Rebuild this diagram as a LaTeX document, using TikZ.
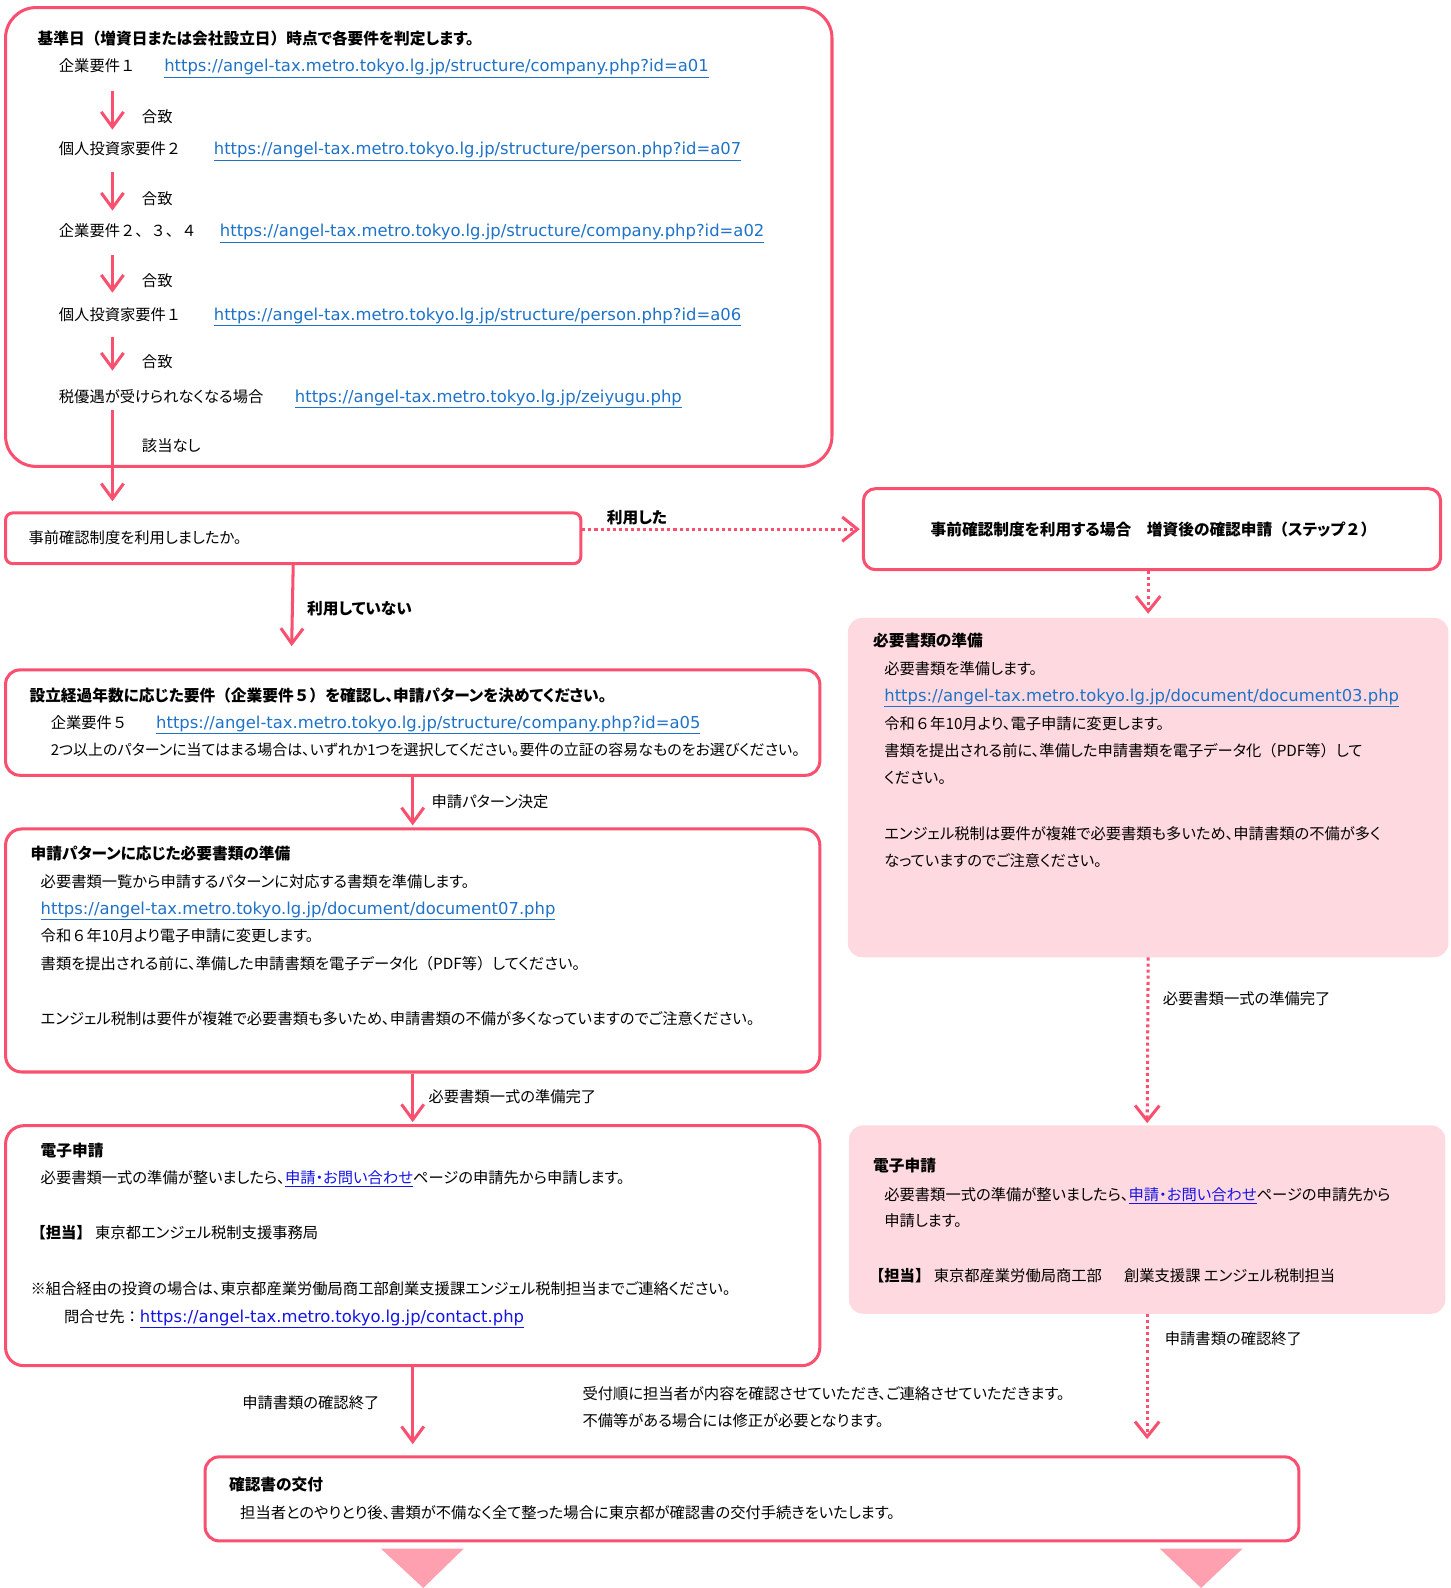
\documentclass[tikz,border=0pt]{standalone}
\usepackage{fontspec}
\setmainfont{Noto Sans CJK JP}[RawFeature=+palt]
\newfontfamily\fwfont{Noto Sans CJK JP}
\newfontfamily\urlfont{DejaVu Sans}
\usetikzlibrary{arrows.meta}
\definecolor{pk}{RGB}{250,80,112}
\definecolor{pkfill}{RGB}{255,217,224}
\definecolor{trifill}{RGB}{255,160,176}
\definecolor{urlc}{RGB}{30,115,200}
\definecolor{lnkc}{RGB}{20,20,230}
\newcommand{\myurl}[2][urlc]{{\urlfont\fontsize{16.2}{18}\selectfont\color{#1}\underline{#2}}}
\newcommand{\mylnk}[1]{{\color{lnkc}\underline{#1}}}
\newcommand{\F}[1]{{\fwfont #1}}
\begin{document}
\begin{tikzpicture}[x=1pt,y=-1pt,
  every node/.style={font=\fontsize{15.1}{18}\selectfont},
  box/.style={draw=pk, line width=3pt, rounded corners=#1, inner sep=0pt, anchor=north west, fill=white},
  pbox/.style={fill=pkfill, rounded corners=14pt, inner sep=0pt, anchor=north west},
  txt/.style={inner sep=0pt, anchor=base west},
  btxt/.style={inner sep=0pt, anchor=base west, font=\fontsize{15.5}{18}\selectfont\bfseries},
  arr/.style={draw=pk, line width=3pt, -{Straight Barb[length=15pt,width=22pt,line width=3pt]}},
  dotarr/.style={draw=pk, line width=3pt, dash pattern=on 3pt off 3pt, -{Straight Barb[length=15pt,width=24pt,line width=3pt]}}
]
\useasboundingbox (0,0) rectangle (1432,1568);

% ---------- boxes ----------
\node[box=30pt, minimum width=816pt, minimum height=453pt] (A) at (4,6) {};
\node[box=7pt, minimum width=568pt, minimum height=50pt] (B) at (4,505) {};
\node[box=12pt, minimum width=570pt, minimum height=80pt] (C) at (851,481) {};
\node[pbox, minimum width=593pt, minimum height=335pt] (D) at (837,610) {};
\node[pbox, minimum width=589pt, minimum height=186pt] (E) at (838,1111) {};
\node[box=14pt, minimum width=804pt, minimum height=104pt] (G) at (4,660) {};
\node[box=16pt, minimum width=804pt, minimum height=240pt] (H) at (4,817) {};
\node[box=18pt, minimum width=804pt, minimum height=237pt] (I) at (4,1110) {};
\node[box=14pt, minimum width=1080pt, minimum height=83pt] (F) at (201,1437) {};

% ---------- box A ----------
\node[btxt] (a0) at (37,44) {基準日\F{（}増資日または会社設立日\F{）}時点で各要件を判定します。};
\node[txt] (a1) at (58,71) {企業要件\F{１}};
\node[txt] (u1) at (162,71) {\myurl{https://angel-tax.metro.tokyo.lg.jp/structure/company.php?id=a01}};
\node[txt] (a2) at (58,153) {個人投資家要件\F{２}};
\node[txt] (u2) at (211,153) {\myurl{https://angel-tax.metro.tokyo.lg.jp/structure/person.php?id=a07}};
\node[txt] (a3) at (58,234) {\F{企業要件２、３、４}};
\node[txt] (u3) at (217,234) {\myurl{https://angel-tax.metro.tokyo.lg.jp/structure/company.php?id=a02}};
\node[txt] (a4) at (58,316) {個人投資家要件\F{１}};
\node[txt] (u4) at (211,316) {\myurl{https://angel-tax.metro.tokyo.lg.jp/structure/person.php?id=a06}};
\node[txt] (a5) at (58,397) {税優遇が受けられなくなる場合};
\node[txt] (u5) at (291,397) {\myurl{https://angel-tax.metro.tokyo.lg.jp/zeiyugu.php}};
\node[txt] (g1) at (140,121) {合致};
\node[txt] (g2) at (140,202) {合致};
\node[txt] (g3) at (140,283) {合致};
\node[txt] (g4) at (140,363) {合致};
\node[txt] (g5) at (140,446) {該当なし};

\coordinate (s1) at (111,90);  \coordinate (e1) at (111,128);
\coordinate (s2) at (111,170); \coordinate (e2) at (111,208);
\coordinate (s3) at (111,252); \coordinate (e3) at (111,289);
\coordinate (s4) at (111,333); \coordinate (e4) at (111,366);
\coordinate (s5) at (111,405); \coordinate (e5) at (111,495);
\draw[arr] (s1) -- (e1);
\draw[arr] (s2) -- (e2);
\draw[arr] (s3) -- (e3);
\draw[arr] (s4) -- (e4);
\draw[arr] (s5) -- (e5);

% ---------- box B / C ----------
\node[txt] (b1) at (28,537) {事前確認制度を利用しましたか。};
\draw[dotarr, shorten >=2pt] (B.east |- C.west) -- (C.west);
\node[btxt] (l1) at (599,517) {利用した};
\node[inner sep=0pt, font=\fontsize{15.5}{18}\selectfont\bfseries] (c1) at (1139,523) {事前確認制度を利用する場合\F{　}増資後の確認申請\F{（}ステップ\F{２）}};

% ---------- right column ----------
\draw[dotarr, shorten >=4pt] (C.south -| D.north) -- (D.north);
\node[btxt] (d0) at (862,638) {必要書類の準備};
\node[txt] (d1) at (873,666) {必要書類を準備します。};
\node[txt] (d2) at (873,693) {\myurl{https://angel-tax.metro.tokyo.lg.jp/document/document03.php}};
\node[txt] (d3) at (873,720) {令和\F{６}年10月より、電子申請に変更します。};
\node[txt] (d4) at (873,747) {書類を提出される前に、準備した申請書類を電子データ化\F{（}PDF等\F{）}して};
\node[txt] (d5) at (873,774) {ください。};
\node[txt] (d6) at (873,829) {エンジェル税制は要件が複雑で必要書類も多いため、申請書類の不備が多く};
\node[txt] (d7) at (873,856) {なっていますのでご注意ください。};

\draw[dotarr, shorten >=2pt] (D.south) -- (E.north);
\node[txt] (l4) at (1148,992) {必要書類一式の準備完了};

\node[btxt] (e0) at (862,1157) {電子申請};
\node[txt] (e1t) at (873,1185) {必要書類一式の準備が整いましたら、\mylnk{申請・お問い合わせ}ページの申請先から};
\node[txt] (e2t) at (873,1211) {申請します。};
\node[txt] (e3t) at (858,1265) {\textbf{\F{【担当】}} 東京都産業労働局商工部\F{　}\ \ 創業支援課 エンジェル税制担当};

\coordinate (fr) at (E.south |- F.north);
\draw[dotarr, shorten >=16pt] (E.south) -- (fr);
\node[txt] (l6) at (1150,1328) {申請書類の確認終了};

% ---------- left column ----------
\coordinate (bg) at (288,638);
\draw[arr] (B.south) -- (bg);
\node[btxt] (l2) at (303,607) {利用していない};

\node[btxt] (g0) at (29,693) {設立経過年数に応じた要件\F{（}企業要件\F{５）}を確認し、申請パターンを決めてください。};
\node[txt] (g1t) at (50,719) {企業要件\F{５}};
\node[txt] (gu) at (154,719) {\myurl{https://angel-tax.metro.tokyo.lg.jp/structure/company.php?id=a05}};
\node[txt, font=\fontsize{14.8}{18}\selectfont] (g2t) at (50,746) {2つ以上のパターンに当てはまる場合は、いずれか1つを選択してください。要件の立証の容易なものをお選びください。};

\draw[arr, shorten >=2pt] (G.south) -- (H.north);
\node[txt] (l3) at (426,797) {申請パターン決定};

\node[btxt] (h0) at (30,849) {申請パターンに応じた必要書類の準備};
\node[txt] (h1) at (40,876) {必要書類一覧から申請するパターンに対応する書類を準備します。};
\node[txt] (h2) at (40,903) {\myurl{https://angel-tax.metro.tokyo.lg.jp/document/document07.php}};
\node[txt] (h3) at (40,930) {令和\F{６}年10月より電子申請に変更します。};
\node[txt] (h4) at (40,957) {書類を提出される前に、準備した申請書類を電子データ化\F{（}PDF等\F{）}してください。};
\node[txt] (h5) at (40,1012) {エンジェル税制は要件が複雑で必要書類も多いため、申請書類の不備が多くなっていますのでご注意ください。};

\draw[arr, shorten >=2pt] (H.south) -- (I.north);
\node[txt] (l5) at (423,1089) {必要書類一式の準備完了};

\node[btxt] (i0) at (40,1142) {電子申請};
\node[txt] (i1) at (40,1169) {必要書類一式の準備が整いましたら、\mylnk{申請・お問い合わせ}ページの申請先から申請します。};
\node[txt] (i2) at (30,1223) {\textbf{\F{【担当】}} 東京都エンジェル税制支援事務局};
\node[txt] (i3) at (30,1278) {※組合経由の投資の場合は、東京都産業労働局商工部創業支援課エンジェル税制担当までご連絡ください。};
\node[txt] (i4) at (63,1306) {問合せ先\F{：}\myurl[lnkc]{https://angel-tax.metro.tokyo.lg.jp/contact.php}};

\coordinate (fl) at (I.south |- F.north);
\draw[arr, shorten >=11pt] (I.south) -- (fl);
\node[txt] (l7) at (239,1391) {申請書類の確認終了};

\node[txt] (m1) at (575,1382) {受付順に担当者が内容を確認させていただき、ご連絡させていただきます。};
\node[txt] (m2) at (575,1409) {不備等がある場合には修正が必要となります。};

% ---------- box F ----------
\node[btxt] (f0) at (226,1472) {確認書の交付};
\node[txt] (f1) at (237,1499) {担当者とのやりとり後、書類が不備なく全て整った場合に東京都が確認書の交付手続きをいたします。};

% ---------- triangles ----------
\fill[trifill] (376,1529) -- (458,1529) -- (418,1568) -- cycle;
\fill[trifill] (1145,1529) -- (1227,1529) -- (1186,1568) -- cycle;
\end{tikzpicture}
\end{document}
